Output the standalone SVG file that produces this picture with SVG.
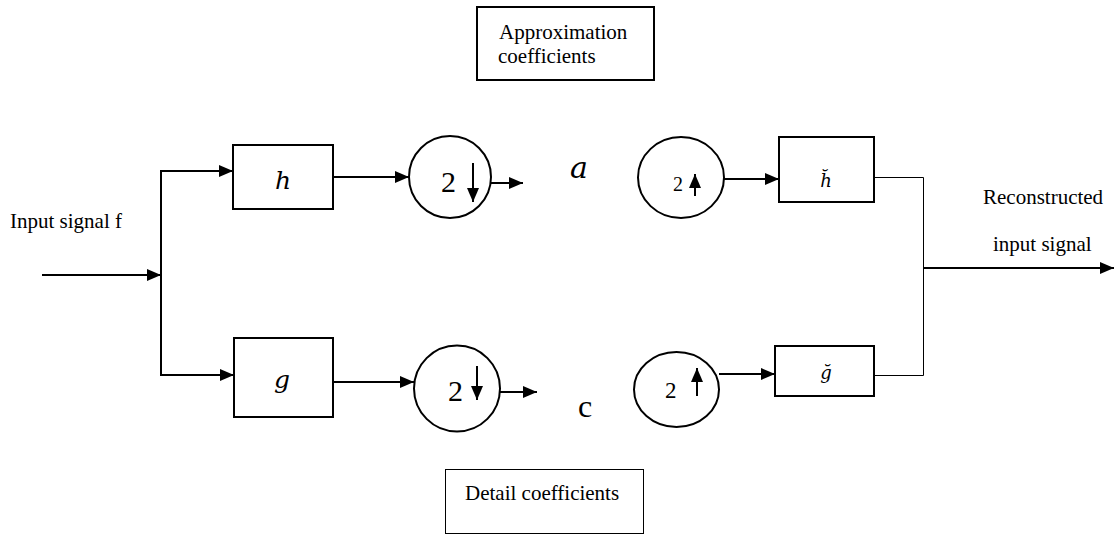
<svg xmlns="http://www.w3.org/2000/svg" width="1115" height="534" viewBox="0 0 1115 534">
<defs>
<marker id="ah" markerUnits="userSpaceOnUse" markerWidth="14" markerHeight="12" refX="14" refY="6" orient="auto">
<path d="M0,0 L14,6 L0,12 z" fill="#000"/>
</marker>
</defs>
<style>
.box{fill:#fff;stroke:#000;stroke-width:2}
.thinbox{fill:#fff;stroke:#000;stroke-width:1}
.ring{fill:#fff;stroke:#000;stroke-width:2}
.ln{fill:none;stroke:#000;stroke-width:2}
.arr{fill:none;stroke:#000;stroke-width:2;marker-end:url(#ah)}
.thin{fill:none;stroke:#000;stroke-width:1}
.t{font-family:"Liberation Serif","Times New Roman",serif;font-size:21px;fill:#000}
.m{font-family:"DejaVu Serif",serif;font-style:italic;fill:#000}
.d{font-family:"Liberation Serif","Times New Roman",serif;fill:#000}
</style>
<rect width="1115" height="534" fill="#fff"/>

<g id="connectors">
<line class="arr" x1="42" y1="275" x2="161" y2="275"/>
<line class="ln" x1="161" y1="170" x2="161" y2="376"/>
<line class="arr" x1="161" y1="171" x2="233" y2="171"/>
<line class="arr" x1="161" y1="375" x2="234" y2="375"/>
<line class="arr" x1="333" y1="177" x2="409" y2="177"/>
<line class="arr" x1="491" y1="183" x2="523" y2="183"/>
<line class="arr" x1="333" y1="382" x2="414" y2="382"/>
<line class="arr" x1="500" y1="392" x2="537" y2="392"/>
<line class="arr" x1="724" y1="179" x2="779" y2="179"/>
<line class="arr" x1="719" y1="374" x2="775" y2="374"/>
<polyline class="thin" points="874,177.5 923.5,177.5 923.5,375.5 874,375.5"/>
<line class="arr" x1="923" y1="268" x2="1114" y2="268"/>
</g>

<g id="approx-label">
<rect class="box" x="477" y="7" width="177" height="73"/>
<text class="t" x="499" y="39">Approximation</text>
<text class="t" x="498" y="63">coefficients</text>
</g>

<g id="detail-label">
<rect class="thinbox" x="445.5" y="469.5" width="198" height="64"/>
<text class="t" x="465" y="500">Detail coefficients</text>
</g>

<g id="input-label">
<text class="t" x="10" y="228">Input signal f</text>
</g>

<g id="output-label">
<text class="t" x="983" y="204">Reconstructed</text>
<text class="t" x="993" y="251">input signal</text>
</g>

<g id="h-filter">
<rect class="box" x="233" y="145" width="100" height="64"/>
<text class="m" x="283" y="189" font-size="25" text-anchor="middle">h</text>
</g>

<g id="g-filter">
<rect class="box" x="234" y="338" width="99" height="79"/>
<text class="m" x="282" y="388" font-size="25" text-anchor="middle">g</text>
</g>

<g id="down-a">
<circle class="ring" cx="450" cy="177" r="41"/>
<text class="d" x="441" y="192" font-size="30">2</text>
<line class="arr" x1="473" y1="163" x2="473" y2="202"/>
</g>

<g id="down-c">
<circle class="ring" cx="457" cy="388.5" r="43"/>
<text class="d" x="448" y="401" font-size="30">2</text>
<line class="arr" x1="477" y1="366" x2="477" y2="400"/>
</g>

<g id="coef-a">
<text class="m" x="570" y="178" font-size="30">a</text>
</g>

<g id="coef-c">
<text class="d" x="578" y="417" font-size="32">c</text>
</g>

<g id="up-a">
<ellipse class="ring" cx="681" cy="177.5" rx="43" ry="40.5"/>
<text class="d" x="673" y="191" font-size="20">2</text>
<line class="arr" x1="695" y1="196" x2="695" y2="174"/>
</g>

<g id="up-c">
<ellipse class="ring" cx="676.5" cy="389.5" rx="42.5" ry="37.5"/>
<text class="d" x="665" y="398" font-size="23">2</text>
<line class="arr" x1="697" y1="396" x2="697" y2="368"/>
</g>

<g id="h-synth">
<rect class="box" x="779" y="137" width="95" height="65"/>
<text class="m" x="826" y="187" font-size="18" text-anchor="middle">h̆</text>
</g>

<g id="g-synth">
<rect class="box" x="775" y="346" width="99" height="50"/>
<text class="m" x="826" y="379" font-size="18" text-anchor="middle">ğ</text>
</g>
</svg>
